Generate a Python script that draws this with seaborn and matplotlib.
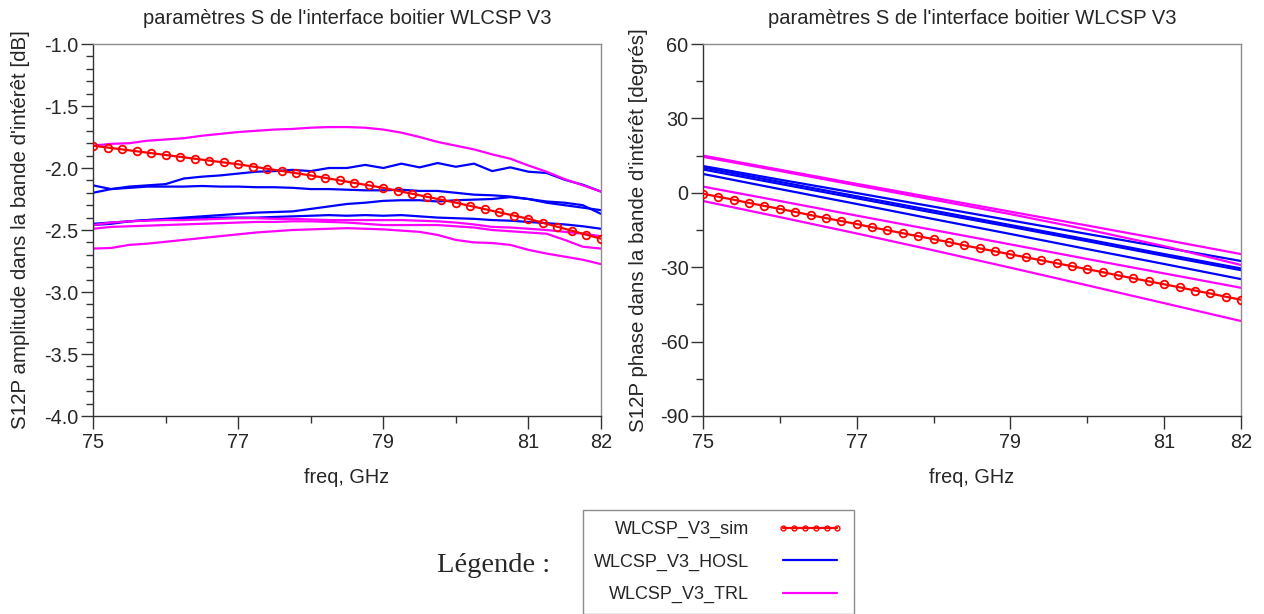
import numpy as np
import pandas as pd
import seaborn as sns
import matplotlib.pyplot as plt
from matplotlib.lines import Line2D
from matplotlib.ticker import MultipleLocator, FixedLocator, FormatStrFormatter

sns.set_style('ticks')
plt.rcParams['font.family'] = ['Liberation Sans', 'DejaVu Sans']
plt.rcParams['axes.unicode_minus'] = False

# frequency grids (GHz)
freq_sim = np.linspace(75, 82, 36)
freq_amp = np.linspace(75, 82, 29)
freq_phase = np.arange(75, 83)

# S12 amplitude [dB]
amp_sim = [-1.82, -1.835, -1.85, -1.865, -1.88, -1.895, -1.91, -1.925, -1.94, -1.955,
           -1.97, -1.988, -2.006, -2.024, -2.042, -2.06, -2.08, -2.10, -2.12, -2.14,
           -2.16, -2.184, -2.208, -2.232, -2.256, -2.28, -2.306, -2.332, -2.358, -2.384,
           -2.41, -2.442, -2.474, -2.506, -2.538, -2.57]
amp_hosl_1 = [-2.14, -2.17, -2.15, -2.14, -2.13, -2.085, -2.07, -2.06, -2.045, -2.03,
              -2.025, -2.015, -2.025, -2.0, -2.0, -1.975, -2.0, -1.965, -1.995, -1.96,
              -1.99, -1.965, -2.025, -1.995, -2.03, -2.04, -2.095, -2.135, -2.19]
amp_hosl_2 = [-2.20, -2.17, -2.16, -2.15, -2.15, -2.15, -2.145, -2.15, -2.15, -2.155,
              -2.155, -2.16, -2.17, -2.17, -2.175, -2.18, -2.18, -2.175, -2.185, -2.185,
              -2.20, -2.215, -2.22, -2.23, -2.25, -2.28, -2.30, -2.32, -2.34]
amp_hosl_3 = [-2.46, -2.45, -2.43, -2.42, -2.41, -2.40, -2.39, -2.38, -2.37, -2.36,
              -2.355, -2.35, -2.33, -2.31, -2.29, -2.28, -2.265, -2.26, -2.26, -2.27,
              -2.26, -2.255, -2.25, -2.235, -2.25, -2.27, -2.28, -2.30, -2.37]
amp_hosl_4 = [-2.45, -2.44, -2.43, -2.42, -2.415, -2.41, -2.405, -2.40, -2.40, -2.40,
              -2.395, -2.39, -2.385, -2.38, -2.385, -2.38, -2.385, -2.38, -2.39, -2.40,
              -2.405, -2.41, -2.42, -2.425, -2.435, -2.445, -2.455, -2.47, -2.49]
amp_trl_1 = [-1.82, -1.805, -1.80, -1.78, -1.77, -1.76, -1.74, -1.725, -1.71, -1.70,
             -1.69, -1.685, -1.675, -1.67, -1.67, -1.675, -1.69, -1.715, -1.75, -1.79,
             -1.82, -1.85, -1.89, -1.925, -1.98, -2.03, -2.09, -2.14, -2.19]
amp_trl_2 = [-2.46, -2.44, -2.43, -2.425, -2.42, -2.42, -2.415, -2.41, -2.405, -2.405,
             -2.41, -2.41, -2.415, -2.42, -2.42, -2.42, -2.42, -2.42, -2.425, -2.43,
             -2.44, -2.455, -2.475, -2.48, -2.49, -2.50, -2.515, -2.53, -2.55]
amp_trl_3 = [-2.49, -2.475, -2.47, -2.465, -2.46, -2.455, -2.45, -2.445, -2.44, -2.435,
             -2.435, -2.43, -2.43, -2.435, -2.44, -2.45, -2.46, -2.46, -2.46, -2.46,
             -2.47, -2.48, -2.50, -2.51, -2.52, -2.53, -2.58, -2.635, -2.65]
amp_trl_4 = [-2.65, -2.645, -2.62, -2.61, -2.595, -2.58, -2.565, -2.55, -2.535, -2.52,
             -2.51, -2.50, -2.495, -2.49, -2.485, -2.49, -2.495, -2.505, -2.515, -2.54,
             -2.58, -2.60, -2.605, -2.62, -2.66, -2.69, -2.715, -2.74, -2.775]

# S12 phase [degres]
phase_sim = [-0.4, -1.6, -2.8, -4.1, -5.3, -6.5, -7.7, -9.0, -10.2, -11.4,
             -12.6, -13.9, -15.1, -16.3, -17.5, -18.7, -19.9, -21.2, -22.4, -23.6,
             -24.8, -26.0, -27.2, -28.4, -29.6, -30.8, -32.0, -33.3, -34.5, -35.7,
             -36.9, -38.1, -39.4, -40.6, -41.9, -43.1]
phase_hosl_1 = [10.8, 5.3, -0.1, -5.6, -11.1, -16.6, -22.0, -27.5]
phase_hosl_2 = [10.2, 4.4, -1.4, -7.2, -13.0, -18.8, -24.7, -30.5]
phase_hosl_3 = [9.4, 3.6, -2.2, -8.0, -13.7, -19.5, -25.4, -31.2]
phase_hosl_4 = [7.6, 1.5, -4.5, -10.6, -16.6, -22.7, -28.7, -34.8]
phase_trl_1 = [15.0, 9.3, 3.6, -2.0, -7.6, -13.2, -18.9, -24.7]
phase_trl_2 = [14.5, 8.8, 3.0, -2.8, -8.6, -14.8, -21.5, -29.1]
phase_trl_3 = [2.5, -3.3, -9.2, -15.0, -20.8, -26.7, -32.5, -38.3]
phase_trl_4 = [-3.3, -9.8, -16.4, -23.2, -30.2, -37.3, -44.5, -51.7]

labels = ['WLCSP_V3_sim', 'WLCSP_V3_HOSL', 'WLCSP_V3_TRL']
colors = {'HOSL': '#0000ff', 'TRL': '#ff00ff', 'sim': '#ff0000'}
title = "paramètres S de l'interface boitier WLCSP V3"


def long_form(freq, hosl, trl):
    curves = hosl + trl
    n = len(freq)
    return pd.DataFrame({
        'freq': np.tile(freq, len(curves)),
        'val': np.concatenate(curves),
        'cal': ['HOSL'] * n * len(hosl) + ['TRL'] * n * len(trl),
        'curve': np.repeat(np.arange(len(curves)), n),
    })


amp_df = long_form(freq_amp, [amp_hosl_1, amp_hosl_2, amp_hosl_3, amp_hosl_4],
                   [amp_trl_1, amp_trl_2, amp_trl_3, amp_trl_4])
phase_df = long_form(freq_phase, [phase_hosl_1, phase_hosl_2, phase_hosl_3, phase_hosl_4],
                     [phase_trl_1, phase_trl_2, phase_trl_3, phase_trl_4])

fig = plt.figure(figsize=(12.64, 6.14), dpi=100)
ax1 = fig.add_axes([93 / 1264, 198 / 614, 508 / 1264, 372 / 614])
ax2 = fig.add_axes([703 / 1264, 198 / 614, 538 / 1264, 372 / 614])

for ax, df, sim in [(ax1, amp_df, amp_sim), (ax2, phase_df, phase_sim)]:
    sns.lineplot(data=df, x='freq', y='val', hue='cal', units='curve', estimator=None,
                 palette=colors, lw=1.6, legend=False, ax=ax)
    sns.lineplot(x=freq_sim, y=sim, color=colors['sim'], lw=1.6, marker='o', ms=5.5,
                 mfc='none', mec=colors['sim'], mew=1.3, ax=ax, zorder=3)
    ax.set_xlim(75, 82)
    ax.xaxis.set_major_locator(FixedLocator([75, 77, 79, 81, 82]))
    ax.xaxis.set_minor_locator(FixedLocator([76, 78, 80]))
    ax.set_title(title, fontsize=14.5, y=1.055, pad=0)
    ax.set_xlabel('freq, GHz', fontsize=14.3)
    ax.xaxis.set_label_coords(0.5, -0.14)
    ax.tick_params(which='major', direction='out', length=9, width=1, labelsize=14.3,
                   color='#333333', pad=1.5)
    ax.tick_params(which='minor', direction='out', length=5, width=1, color='#333333')
    ax.tick_params(axis='x', which='major', pad=3)
    for s in ['top', 'right']:
        ax.spines[s].set_color('#8c8c8c')
    for s in ['left', 'bottom']:
        ax.spines[s].set_color('#333333')
    for s in ax.spines.values():
        s.set_linewidth(1)

ax1.set_ylim(-4.0, -1.0)
ax1.yaxis.set_major_locator(MultipleLocator(0.5))
ax1.yaxis.set_minor_locator(MultipleLocator(0.1))
ax1.yaxis.set_major_formatter(FormatStrFormatter('%.1f'))
ax1.set_ylabel("S12P amplitude dans la bande d'intérêt [dB]", fontsize=14.8)
ax1.yaxis.set_label_coords(-0.124, 0.5)

ax2.set_ylim(-90, 60)
ax2.yaxis.set_major_locator(MultipleLocator(30))
ax2.yaxis.set_minor_locator(MultipleLocator(15))
ax2.set_ylabel("S12P phase dans la bande d'intérêt [degrés]", fontsize=14.8)
ax2.yaxis.set_label_coords(-0.102, 0.5)

handles = [
    Line2D([], [], color=colors['sim'], lw=1.6, marker='o', ms=3.5, mfc='none', mew=1),
    Line2D([], [], color=colors['HOSL'], lw=1.6),
    Line2D([], [], color=colors['TRL'], lw=1.6),
]
fig.legend(handles, labels, loc='upper left', bbox_to_anchor=(583 / 1264, 1 - 510 / 614),
           borderaxespad=0, frameon=True, fancybox=False, edgecolor='#8c8c8c',
           markerfirst=False, numpoints=6, handlelength=3.6, handletextpad=1.6,
           labelspacing=0.85, borderpad=0.6, fontsize=13, framealpha=1)
fig.text(437 / 1264, 1 - 565 / 614, 'Légende :', family='Liberation Serif', fontsize=20.5,
         ha='left', va='center')

fig.savefig('out.png', dpi=100)
